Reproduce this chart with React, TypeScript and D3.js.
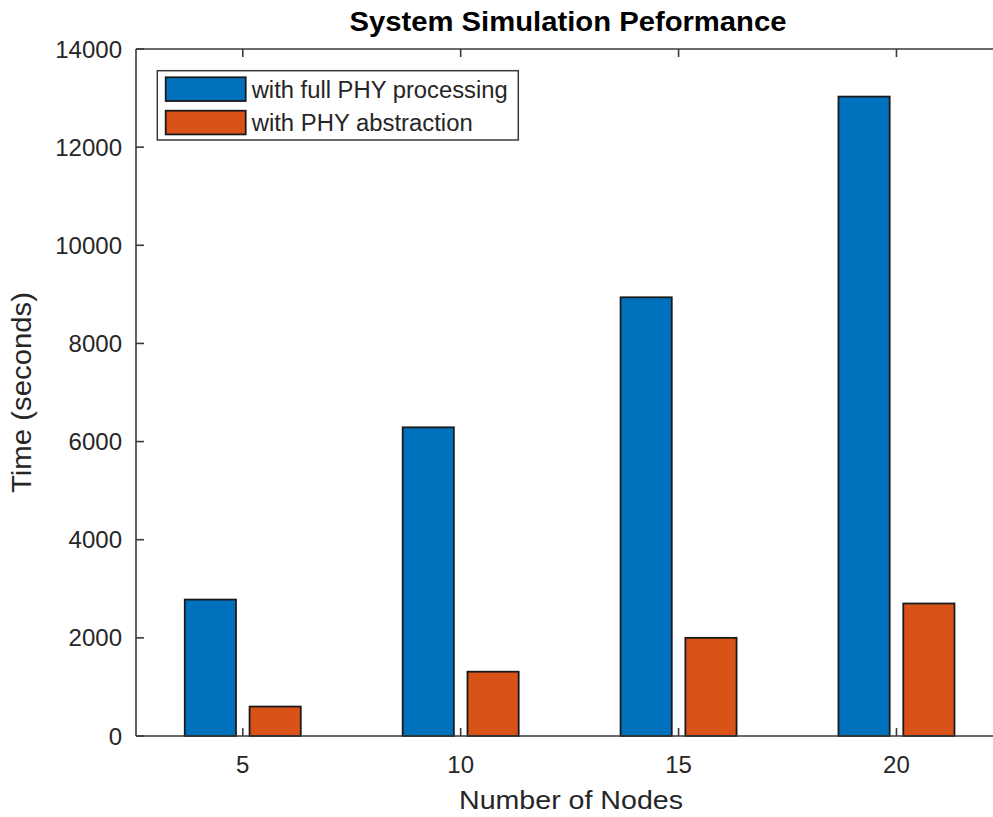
import React from "react";
import * as d3 from "d3";

const categories = [5, 10, 15, 20];
const seriesNames = ["with full PHY processing", "with PHY abstraction"];
const fullPhy = [2780, 6290, 8940, 13030];
const phyAbstraction = [600, 1310, 2000, 2700];
const yTicks = [0, 2000, 4000, 6000, 8000, 10000, 12000, 14000];
const colors = ["#0072BD", "#D95319"];

const W = 993;
const H = 817;
const left = 136;
const right = 1007.6;
const top = 49;
const bottom = 736;
const axisColor = "#3a3a3a";
const textColor = "#262626";
const font = "'Liberation Sans', Arial, Helvetica, sans-serif";
const legendTextLengths = [256, 221];

export default function App() {
  const x = d3.scaleLinear().domain([2.55, 22.55]).range([left, right]);
  const y = d3.scaleLinear().domain([0, 14000]).range([bottom, top]);
  const series = [fullPhy, phyAbstraction];
  const tickLen = 8;

  return (
    <svg
      width={W}
      height={H}
      style={{ position: "absolute", left: 0, top: 0, background: "#fff", overflow: "hidden" }}
    >
      <rect x={0} y={0} width={W} height={H} fill="#fff" />
      {/* bars */}
      {categories.map((c, i) => {
        const inner = d3
          .scaleBand<number>()
          .domain([0, 1])
          .range([x(c) - 58, x(c) + 58])
          .paddingInner(0.21);
        return series.map((s, j) => (
          <rect
            key={`${i}-${j}`}
            x={inner(j)}
            y={y(s[i])}
            width={inner.bandwidth()}
            height={y(0) - y(s[i])}
            fill={colors[j]}
            stroke="#1a1a1a"
            strokeWidth={1.8}
          />
        ));
      })}
      {/* axes box */}
      <g stroke={axisColor} strokeWidth={1.6} fill="none">
        <line x1={left} y1={bottom} x2={right} y2={bottom} />
        <line x1={left} y1={top} x2={right} y2={top} />
        <line x1={left} y1={top} x2={left} y2={bottom} />
        <line x1={right} y1={top} x2={right} y2={bottom} />
        {categories.map((c) => (
          <g key={c}>
            <line x1={x(c)} y1={bottom} x2={x(c)} y2={bottom - tickLen} />
            <line x1={x(c)} y1={top} x2={x(c)} y2={top + tickLen} />
          </g>
        ))}
        {yTicks.map((t) => (
          <g key={t}>
            <line x1={left} y1={y(t)} x2={left + tickLen} y2={y(t)} />
            <line x1={right} y1={y(t)} x2={right - tickLen} y2={y(t)} />
          </g>
        ))}
      </g>
      {/* tick labels */}
      <g fill={textColor} fontFamily={font} fontSize={24}>
        {yTicks.map((t) => (
          <text key={t} x={left - 14} y={y(t)} textAnchor="end" dominantBaseline="central">
            {t}
          </text>
        ))}
        {categories.map((c) => (
          <text key={c} x={x(c)} y={bottom + 37} textAnchor="middle">
            {c}
          </text>
        ))}
      </g>
      {/* axis labels */}
      <text
        x={571}
        y={809}
        textAnchor="middle"
        fontFamily={font}
        fontSize={26}
        fill={textColor}
        textLength={224}
        lengthAdjust="spacingAndGlyphs"
      >
        Number of Nodes
      </text>
      <text
        transform={`translate(31, ${y(7000) + 0}) rotate(-90)`}
        textAnchor="middle"
        fontFamily={font}
        fontSize={27}
        fill={textColor}
        textLength={201}
        lengthAdjust="spacingAndGlyphs"
      >
        Time (seconds)
      </text>
      {/* title */}
      <text
        x={568}
        y={31}
        textAnchor="middle"
        fontFamily={font}
        fontSize={27}
        fontWeight="bold"
        fill="#000"
        textLength={437}
        lengthAdjust="spacingAndGlyphs"
      >
        System Simulation Peformance
      </text>
      {/* legend */}
      <g>
        <rect x={157.3} y={70.7} width={361} height={69.3} fill="#fff" stroke={axisColor} strokeWidth={1.5} />
        {seriesNames.map((n, j) => (
          <g key={n}>
            <rect
              x={165.7}
              y={77.3 + j * 33.4}
              width={80}
              height={23.7}
              fill={colors[j]}
              stroke="#1a1a1a"
              strokeWidth={1.8}
            />
            <text
              x={251.7}
              y={97.5 + j * 33.4}
              fontFamily={font}
              fontSize={23}
              fill={textColor}
              textLength={legendTextLengths[j]}
              lengthAdjust="spacingAndGlyphs"
            >
              {n}
            </text>
          </g>
        ))}
      </g>
    </svg>
  );
}
